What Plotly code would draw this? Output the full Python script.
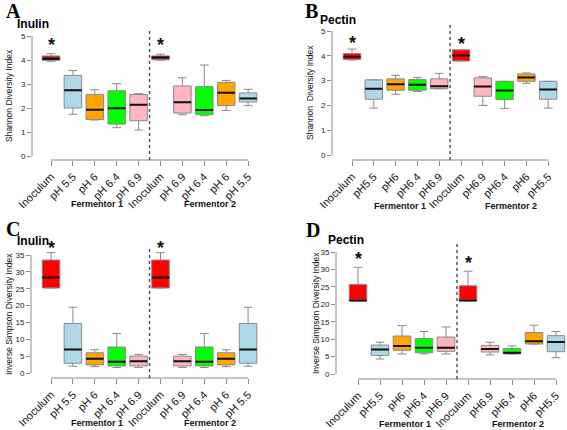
import plotly.graph_objects as go

W, H = 567, 430

# ---------------- data ----------------
labels_inulin = ["Inoculum", "pH 5.5", "pH 6", "pH 6.4", "pH 6.9",
                 "Inoculum", "pH 6.9", "pH 6.4", "pH 6", "pH 5.5"]
labels_pectin = ["Inoculum", "pH5.5", "pH6", "pH6.4", "pH6.9",
                 "Inoculum", "pH6.9", "pH6.4", "pH6", "pH5.5"]
groups = ["Fermentor 1", "Fermentor 2"]

# A: Shannon, Inulin
A_low = [3.95, 1.74, 1.50, 1.18, 1.08, 3.99, 1.72, 1.68, 1.90, 2.10]
A_q1 = [3.98, 2.00, 1.52, 1.33, 1.47, 4.01, 1.79, 1.72, 2.10, 2.25]
A_med = [4.05, 2.74, 1.93, 1.99, 2.14, 4.10, 2.24, 1.92, 2.64, 2.40]
A_q3 = [4.17, 3.36, 2.56, 2.72, 2.56, 4.17, 2.92, 2.89, 3.07, 2.63]
A_high = [4.26, 3.56, 2.76, 3.01, 2.60, 4.24, 3.26, 3.79, 3.15, 2.78]

# B: Shannon, Pectin
B_low = [3.83, 1.89, 2.45, 2.56, 2.67, 3.79, 2.00, 1.88, 2.89, 1.89]
B_q1 = [3.85, 2.25, 2.61, 2.61, 2.67, 3.79, 2.37, 2.24, 2.97, 2.25]
B_med = [3.96, 2.67, 2.85, 2.83, 2.77, 4.01, 2.76, 2.60, 3.13, 2.64]
B_q3 = [4.09, 3.03, 3.07, 3.04, 3.07, 4.24, 3.11, 2.97, 3.27, 2.97]
B_high = [4.27, 3.03, 3.21, 3.12, 3.29, 4.24, 3.16, 2.97, 3.31, 2.97]

# C: Inverse Simpson, Inulin
C_low = [25.2, 2.0, 1.9, 1.65, 1.65, 25.2, 1.65, 1.65, 1.9, 2.0]
C_q1 = [25.2, 2.9, 2.4, 2.1, 2.1, 25.2, 2.1, 2.1, 2.4, 2.9]
C_med = [28.3, 7.0, 4.2, 3.3, 3.5, 28.3, 3.5, 3.3, 4.2, 7.0]
C_q3 = [33.5, 14.7, 6.0, 7.7, 5.0, 33.5, 5.0, 7.7, 6.0, 14.7]
C_high = [35.7, 19.5, 6.9, 11.7, 5.5, 35.7, 5.5, 11.7, 6.9, 19.5]

# D: Inverse Simpson, Pectin
D_low = [21.0, 4.3, 5.75, 5.75, 5.75, 21.0, 5.5, 5.75, 8.6, 4.7]
D_q1 = [21.0, 5.3, 6.8, 6.1, 6.5, 21.0, 6.3, 5.75, 8.6, 6.4]
D_med = [21.1, 7.0, 8.0, 7.5, 7.5, 21.1, 7.2, 6.1, 9.4, 9.2]
D_q3 = [25.7, 8.3, 10.9, 10.2, 10.6, 25.3, 8.2, 7.3, 11.9, 11.0]
D_high = [30.6, 9.1, 13.9, 12.2, 13.5, 29.5, 9.1, 8.1, 14.0, 12.2]

# ---------------- styles ----------------
RED, DRED = "#FF0000", "#CC1010"
BLUE, ORANGE, GREEN, PINK = "#ADD8E6", "#FFA500", "#00FF00", "#FFB6C1"
colors_std = [RED, BLUE, ORANGE, GREEN, PINK, RED, PINK, GREEN, ORANGE, BLUE]
colors_A = [DRED, BLUE, ORANGE, GREEN, PINK, DRED, PINK, GREEN, ORANGE, BLUE]

FONT = "Liberation Sans, Arial, sans-serif"
GRAY = "#8a8a8a"

panels = [
    dict(letter="A", title="Inulin", ytitle="Shannon Diversity Index",
         labels=labels_inulin, low=A_low, q1=A_q1, med=A_med, q3=A_q3, high=A_high,
         colors=colors_A, ymax=5, dtick=1,
         axpx=32, cat0=51, step=21.9, y0px=156, ytpx=36, xlinepx=160,
         letterxy=(4, 11), titlexy=(15, 24), ytitlex=9, star_px=9,
         g1=(97, 204), g2=(210, 204)),
    dict(letter="B", title="Pectin", ytitle="Shannon  Diversity Index",
         labels=labels_pectin, low=B_low, q1=B_q1, med=B_med, q3=B_q3, high=B_high,
         colors=colors_std, ymax=5, dtick=1,
         axpx=332, cat0=352, step=21.8, y0px=155, ytpx=31, xlinepx=160,
         letterxy=(303, 11), titlexy=(318, 20), ytitlex=310, star_px=6,
         g1=(400, 206), g2=(511, 206)),
    dict(letter="C", title="Inulin", ytitle="Inverse Simpson Diversity Index",
         labels=labels_inulin, low=C_low, q1=C_q1, med=C_med, q3=C_q3, high=C_high,
         colors=colors_std, ymax=35, dtick=5,
         axpx=31, cat0=51, step=21.9, y0px=373, ytpx=255, xlinepx=378,
         letterxy=(4, 229), titlexy=(15, 241), ytitlex=9, star_px=5,
         g1=(97, 423), g2=(210, 423)),
    dict(letter="D", title="Pectin", ytitle="Inverse Simpson Diversity Index",
         labels=labels_pectin, low=D_low, q1=D_q1, med=D_med, q3=D_q3, high=D_high,
         colors=colors_std, ymax=35, dtick=5,
         axpx=336, cat0=358, step=22.0, y0px=374, ytpx=252, xlinepx=379,
         letterxy=(304, 230), titlexy=(326, 240), ytitlex=316, star_px=8,
         g1=(405, 424), g2=(518, 424)),
]


def px2x(px):
    return px / W


def px2y(py):
    return 1 - py / H


fig = go.Figure()
shapes, annotations = [], []
layout_axes = {}

for k, p in enumerate(panels):
    n = k + 1
    xa = "x" if n == 1 else f"x{n}"
    ya = "y" if n == 1 else f"y{n}"
    xkey = "xaxis" if n == 1 else f"xaxis{n}"
    ykey = "yaxis" if n == 1 else f"yaxis{n}"

    ppu = (p["y0px"] - p["ytpx"]) / p["ymax"]
    top_px = p["ytpx"] - 8
    bot_px = p["xlinepx"]
    right_px = min(p["cat0"] + 9.55 * p["step"], W - 1)
    xr = [(p["axpx"] - p["cat0"]) / p["step"], (right_px - p["cat0"]) / p["step"]]
    yr = [(p["y0px"] - bot_px) / ppu, (p["y0px"] - top_px) / ppu]

    cats = list(range(len(p["labels"])))
    for i in cats:
        fig.add_trace(go.Box(
            x=[i], q1=[p["q1"][i]], median=[p["med"][i]], q3=[p["q3"][i]],
            lowerfence=[p["low"][i]], upperfence=[p["high"][i]],
            width=0.8, whiskerwidth=0.5, fillcolor=p["colors"][i],
            line=dict(color=GRAY, width=1), boxpoints=False,
            hoverinfo="skip", showlegend=False, xaxis=xa, yaxis=ya))
        # thick black median line
        m = p["med"][i]
        fig.add_trace(go.Box(
            x=[i], q1=[m], median=[m], q3=[m], lowerfence=[m], upperfence=[m],
            width=0.8, whiskerwidth=0, fillcolor="rgba(0,0,0,0)",
            line=dict(color="#111111", width=2), boxpoints=False,
            hoverinfo="skip", showlegend=False, xaxis=xa, yaxis=ya))

    layout_axes[xkey] = dict(
        domain=[px2x(p["axpx"]), px2x(right_px)], range=xr, anchor=ya,
        tickmode="array", tickvals=cats, ticktext=p["labels"], tickangle=-45,
        ticks="outside", ticklen=5, tickcolor=GRAY, showline=False,
        showgrid=False, zeroline=False,
        tickfont=dict(family=FONT, size=11, color="#111"))
    layout_axes[ykey] = dict(
        domain=[px2y(bot_px), px2y(top_px)], range=yr, anchor=xa,
        tickmode="linear", tick0=0, dtick=p["dtick"],
        ticks="outside", ticklen=4, tickcolor=GRAY, showline=False,
        showgrid=False, zeroline=False,
        tickfont=dict(family=FONT, size=8, color="#222"))

    # R-style axis lines
    shapes.append(dict(type="line", xref=f"{xa} domain", yref=ya,
                       x0=0, x1=0, y0=0, y1=p["ymax"],
                       line=dict(color=GRAY, width=1)))
    shapes.append(dict(type="line", xref=xa, yref=f"{ya} domain",
                       x0=cats[0], x1=cats[-1], y0=0, y1=0,
                       line=dict(color=GRAY, width=1)))
    # separator between fermentors
    shapes.append(dict(type="line", xref=xa, yref=f"{ya} domain",
                       x0=4.5, x1=4.5, y0=0, y1=1,
                       line=dict(color="#555555", width=1.5, dash="dot")))

    # significance stars above inocula (placed just above the upper whisker)
    for i in (0, 5):
        ypx = p["y0px"] - p["high"][i] * ppu - p["star_px"]
        annotations.append(dict(
            x=i, y=px2y(ypx), xref=xa, yref="paper",
            text="<b>*</b>", showarrow=False, xanchor="center", yanchor="middle",
            font=dict(family=FONT, size=18, color="#111")))

    # y-axis title
    annotations.append(dict(
        x=px2x(p["ytitlex"]), y=px2y(p["y0px"] - p["ymax"] * ppu / 2),
        xref="paper", yref="paper", text=p["ytitle"], textangle=-90,
        xanchor="center", yanchor="middle",
        showarrow=False, font=dict(family=FONT, size=8.5, color="#111")))

    # panel letter and title
    annotations.append(dict(
        x=px2x(p["letterxy"][0]), y=px2y(p["letterxy"][1]),
        xref="paper", yref="paper", text="<b>" + p["letter"] + "</b>",
        xanchor="left", yanchor="middle", showarrow=False,
        font=dict(family="Liberation Serif, Times New Roman, serif", size=20, color="#000")))
    annotations.append(dict(
        x=px2x(p["titlexy"][0]), y=px2y(p["titlexy"][1]),
        xref="paper", yref="paper", text="<b>" + p["title"] + "</b>",
        xanchor="left", yanchor="middle", showarrow=False,
        font=dict(family=FONT, size=12, color="#000")))

    # group labels
    for g, pos in zip(groups, (p["g1"], p["g2"])):
        annotations.append(dict(
            x=px2x(pos[0]), y=px2y(pos[1]), xref="paper", yref="paper",
            text="<b>" + g + "</b>", showarrow=False,
            xanchor="center", yanchor="middle",
            font=dict(family=FONT, size=9, color="#111")))

fig.update_layout(
    width=W, height=H, margin=dict(l=0, r=0, t=0, b=0, autoexpand=False),
    paper_bgcolor="white", plot_bgcolor="white",
    boxmode="overlay", showlegend=False,
    shapes=shapes, annotations=annotations, **layout_axes)

fig.write_html(
    "out.html",
    config={"displayModeBar": False},
    post_script="document.body.style.margin='0';document.body.style.padding='0';",
)
